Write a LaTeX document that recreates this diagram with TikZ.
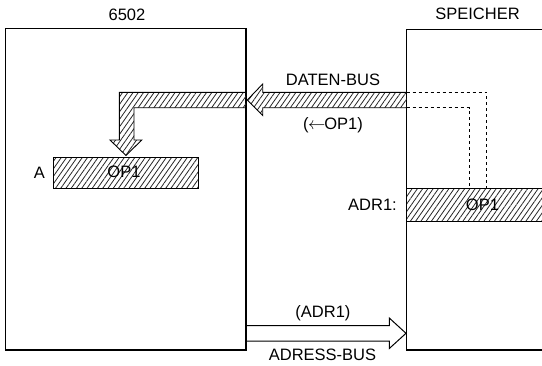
\documentclass[tikz,border=0pt]{standalone}
\usepackage{fontspec}
\setmainfont{Liberation Sans}
\usetikzlibrary{patterns.meta}
\tikzset{
  box/.style={draw=black, line width=1.1pt},
  hatch/.style={draw=black, line width=0.9pt, pattern={Lines[angle=55,distance=4.3pt,line width=0.8pt]}, pattern color=black!85},
  dots/.style={draw=black, line width=0.8pt, dash pattern=on 3pt off 3pt},
  lbl/.style={inner sep=0pt, font=\fontsize{16.5}{18}\selectfont},
  hollow/.style={draw=black, line width=1pt}
}
\begin{document}
\begin{tikzpicture}[x=1pt,y=-1pt]
\useasboundingbox (0,0) rectangle (542,365);
% boxes
\coordinate (cpuTL) at (5.7,28.5);
\coordinate (cpuBR) at (246,350);
\draw[box] (cpuTL) rectangle (cpuBR);
\coordinate (memTR) at (546,29.3);
\coordinate (memTL) at (406.7,29.3);
\coordinate (memBL) at (406.7,350);
\coordinate (memBR) at (546,350);
\draw[box] (memTR) -- (memTL) -- (memBL) -- (memBR);
% titles
\node[lbl] (t6502) at (127,15) {6502};
\node[lbl] (tmem) at (477.5,14) {SPEICHER};
% register A
\draw[hatch] (53.3,157) rectangle (198.3,188.8);
\node[lbl] (regA) at (39.3,173.3) {A};
\node[lbl] (opA) at (124,172) {OP1};
% memory cell
\draw[hatch] (546,188.3) -- (406.7,188.3) -- (406.7,221.7) -- (546,221.7);
\node[lbl, anchor=east] (adr) at (397,205) {ADR1:};
\node[lbl] (opM) at (482.5,205) {OP1};
% data bus, outside part with arrowhead
\draw[hatch] (406.7,92.3) -- (262.7,92.3) -- (262.7,84) -- (247.3,100) -- (262.7,115.5) -- (262.7,107.7) -- (406.7,107.7);
% data bus inside CPU, L-shaped with arrowhead down
\draw[hatch] (246,92.3) -- (119.3,92.3) -- (119.3,140) -- (110,140) -- (126,155.5) -- (141.7,140) -- (134,140) -- (134,107.7) -- (246,107.7);
\node[lbl] (dbus) at (333,80) {DATEN-BUS};
\node[lbl] (dop) at (333,125) {(\kern-0.5pt$\leftarrow$\kern-1pt OP1)};
% dotted lines in memory
\draw[dots] (406.7,92.3) -- (486.7,92.3) -- (486.7,188.3);
\draw[dots] (406.7,107.7) -- (469.3,107.7) -- (469.3,188.3);
% address bus hollow arrow
\draw[hollow] (246,325.7) -- (389.3,325.7) -- (389.3,318) -- (406,333.3) -- (389.3,348.5) -- (389.3,341) -- (246,341);
\node[lbl] (aop) at (323,313) {(ADR1)};
\node[lbl] (abus) at (322.5,355) {ADRESS-BUS};
\end{tikzpicture}
\end{document}
